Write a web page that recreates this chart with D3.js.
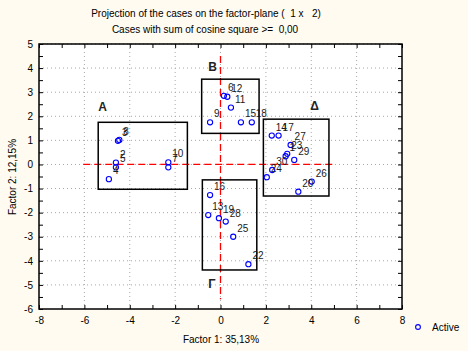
<!DOCTYPE html>
<html>
<head>
<meta charset="utf-8">
<script src="https://cdn.jsdelivr.net/npm/d3@7"></script>
<style>
  body { margin: 0; background: #fffbf0; }
  text { font-family: "Liberation Sans", Arial, sans-serif; }
</style>
</head>
<body>
<div id="chart"></div>
<script>
// case labels, coordinates on factor 1 / factor 2
var caseLabels = ["3","8","2","5","4","10","7",
                  "6","12","11","9","15","18",
                  "16","13","19","28","25","22",
                  "14","17","27","23","1","29","30","24","26","20"];
var factor1 = [-4.52,-4.46,-4.61,-4.61,-4.92,-2.30,-2.30,
               0.15,0.30,0.46,-0.46,0.90,1.38,
               -0.46,-0.54,-0.07,0.23,0.56,1.23,
               2.26,2.56,3.09,2.94,2.87,3.25,2.28,2.04,4.02,3.43];
var factor2 = [0.98,1.02,0.08,-0.12,-0.61,0.09,-0.12,
               2.85,2.81,2.36,1.75,1.75,1.75,
               -1.27,-2.10,-2.23,-2.37,-3.00,-4.14,
               1.20,1.20,0.81,0.44,0.34,0.19,-0.23,-0.53,-0.71,-1.13];

// groups drawn as boxes (data units)
var groupNames = ["Α","Β","Γ","Δ"];
var groupX0 = [-5.39,-0.83,-0.80,1.89];
var groupX1 = [-1.46, 1.70, 1.60,4.78];
var groupY0 = [-1.03, 1.29,-4.38,-1.31];
var groupY1 = [ 1.75, 3.54,-0.64,1.88];
var groupLabelX = [-5.2,-0.35,-0.38,4.15];
var groupLabelY = [2.35, 4.02,-4.98,2.38];

var xTicks = d3.range(-8, 9, 2);
var yTicks = d3.range(-6, 6, 1);

var W = 468, H = 351;
var svg = d3.select("#chart").append("svg")
  .attr("width", W).attr("height", H);

var x = d3.scaleLinear().domain([-8, 8]).range([39, 402]);
var y = d3.scaleLinear().domain([-6, 5]).range([309, 44]);
var fmt = d => String(d);

// titles
svg.append("text").attr("x", 206).attr("y", 17).attr("text-anchor", "middle")
  .style("font-size", "10px").attr("xml:space", "preserve")
  .text("Projection of the cases on the factor-plane (  1 x   2)");
svg.append("text").attr("x", 205).attr("y", 33).attr("text-anchor", "middle")
  .style("font-size", "10px").attr("xml:space", "preserve")
  .text("Cases with sum of cosine square >=  0,00");

// plot background
svg.append("rect").attr("x", x(-8)).attr("y", y(5))
  .attr("width", x(8) - x(-8)).attr("height", y(-6) - y(5))
  .attr("fill", "#ffffff");

// grid
svg.append("g").selectAll("line").data(xTicks.slice(1, -1)).join("line")
  .attr("x1", d => x(d)).attr("x2", d => x(d))
  .attr("y1", y(5)).attr("y2", y(-6))
  .attr("stroke", "#a8a8a8").attr("stroke-dasharray", "1,3");
svg.append("g").selectAll("line").data(yTicks.slice(1)).join("line")
  .attr("x1", x(-8)).attr("x2", x(8))
  .attr("y1", d => y(d)).attr("y2", d => y(d))
  .attr("stroke", "#a8a8a8").attr("stroke-dasharray", "1,3");

// axes
var axBottom = svg.append("g").attr("transform", "translate(0," + y(-6) + ")")
  .call(d3.axisBottom(x).tickValues(xTicks).tickFormat(fmt).tickSize(0).tickPadding(8));
var axBottomMinor = svg.append("g").attr("transform", "translate(0," + y(-6) + ")")
  .call(d3.axisBottom(x).tickValues(d3.range(-8, 9, 1)).tickSize(-4).tickFormat(""));
var axTop = svg.append("g").attr("transform", "translate(0," + y(5) + ")")
  .call(d3.axisTop(x).tickValues(d3.range(-8, 9, 1)).tickSize(-4).tickFormat(""));
var axLeft = svg.append("g").attr("transform", "translate(" + x(-8) + ",0)")
  .call(d3.axisLeft(y).tickValues(yTicks).tickFormat(fmt).tickSize(0).tickPadding(6));
var axLeftMinor = svg.append("g").attr("transform", "translate(" + x(-8) + ",0)")
  .call(d3.axisLeft(y).tickValues(d3.range(-6, 5.01, 0.5)).tickSize(-4).tickFormat(""));
var axRight = svg.append("g").attr("transform", "translate(" + x(8) + ",0)")
  .call(d3.axisRight(y).tickValues(d3.range(-6, 5.01, 0.5)).tickSize(-4).tickFormat(""));

[axBottom, axBottomMinor, axTop, axLeft, axLeftMinor, axRight].forEach(g => {
  g.select(".domain").remove();
  g.selectAll("line").attr("stroke", "#000");
  g.selectAll("text").style("font-size", "10px").attr("fill", "#000")
    .style("font-family", "Liberation Sans, Arial, sans-serif");
});

// frame
svg.append("rect").attr("x", x(-8)).attr("y", y(5))
  .attr("width", x(8) - x(-8)).attr("height", y(-6) - y(5))
  .attr("fill", "none").attr("stroke", "#000").attr("stroke-width", 1.5);

// red axis lines through origin
svg.append("line").attr("x1", x(-6.05)).attr("x2", x(5.05))
  .attr("y1", y(0)).attr("y2", y(0))
  .attr("stroke", "#ff0000").attr("stroke-width", 1.3).attr("stroke-dasharray", "7,4");
svg.append("line").attr("x1", x(0)).attr("x2", x(0))
  .attr("y1", y(4.5)).attr("y2", y(-5.6))
  .attr("stroke", "#ff0000").attr("stroke-width", 1.3).attr("stroke-dasharray", "7,4");

// group boxes
groupNames.forEach((n, i) => {
  svg.append("rect")
    .attr("x", x(groupX0[i])).attr("y", y(groupY1[i]))
    .attr("width", x(groupX1[i]) - x(groupX0[i]))
    .attr("height", y(groupY0[i]) - y(groupY1[i]))
    .attr("fill", "none").attr("stroke", "#000").attr("stroke-width", 1.5);
  svg.append("text").attr("x", x(groupLabelX[i])).attr("y", y(groupLabelY[i]))
    .attr("text-anchor", "middle").attr("dominant-baseline", "middle")
    .style("font-size", "12px").style("font-weight", "bold").attr("fill", "#222")
    .text(n);
});

// points
var pts = caseLabels.map((l, i) => ({label: l, f1: factor1[i], f2: factor2[i]}));
svg.append("g").selectAll("circle").data(pts).join("circle")
  .attr("cx", d => x(d.f1)).attr("cy", d => y(d.f2)).attr("r", 2.6)
  .attr("fill", "none").attr("stroke", "#0000ff").attr("stroke-width", 1.1);
svg.append("g").selectAll("text").data(pts).join("text")
  .attr("x", d => x(d.f1) + 4).attr("y", d => y(d.f2) - 5)
  .style("font-size", "10px").attr("fill", "#1a1a1a")
  .text(d => d.label);

// axis titles
svg.append("text").attr("x", 221).attr("y", 343).attr("text-anchor", "middle")
  .style("font-size", "10px").text("Factor 1: 35,13%");
svg.append("text").attr("transform", "translate(16,177) rotate(-90)")
  .attr("text-anchor", "middle").style("font-size", "10px").text("Factor 2: 12,15%");

// legend
svg.append("circle").attr("cx", 418).attr("cy", 327).attr("r", 2.4)
  .attr("fill", "none").attr("stroke", "#0000ff").attr("stroke-width", 1.1);
svg.append("text").attr("x", 432).attr("y", 331).style("font-size", "10px").text("Active");
</script>
</body>
</html>
